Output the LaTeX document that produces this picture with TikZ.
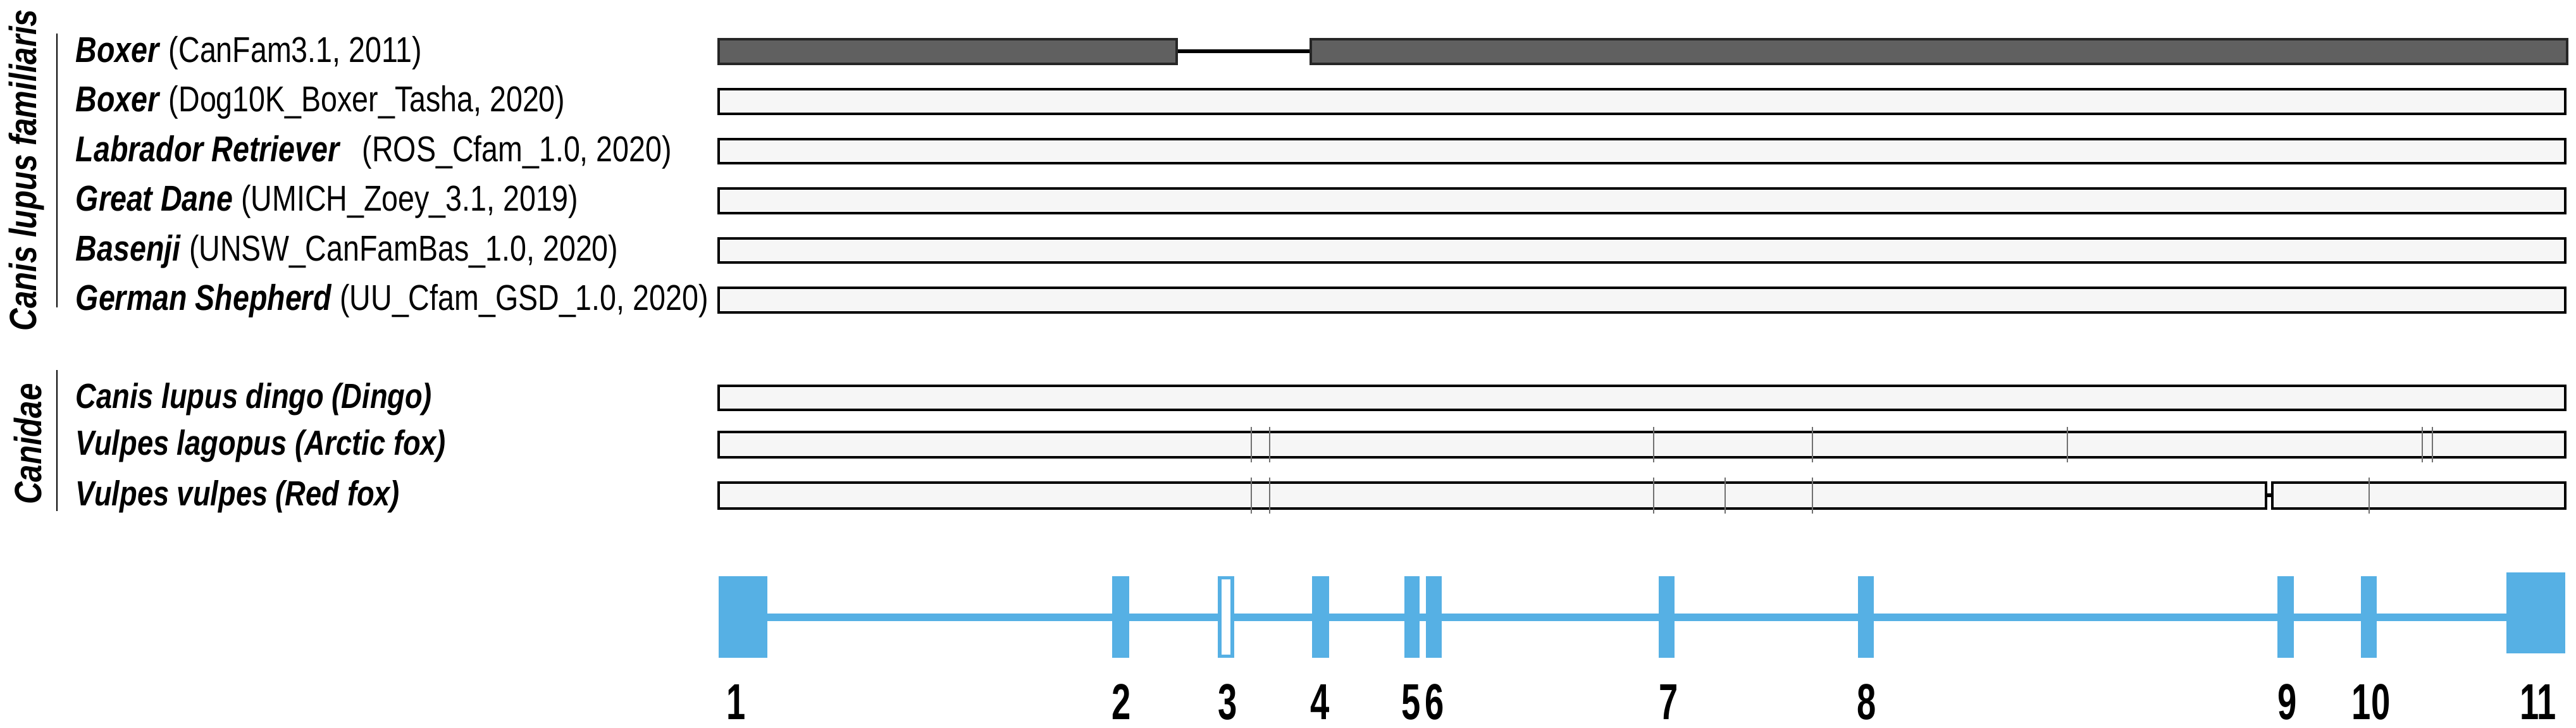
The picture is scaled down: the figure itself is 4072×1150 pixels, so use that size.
\documentclass[tikz,border=0pt]{standalone}
\usepackage{fontspec}
\setmainfont{Liberation Sans}[FakeStretch=0.82]
\newfontfamily\exfont{Liberation Sans}[FakeStretch=0.68]
\definecolor{exblue}{RGB}{86,176,228}
\definecolor{barfill}{RGB}{246,246,246}
\definecolor{darkfill}{RGB}{96,96,96}
\definecolor{tickgrey}{RGB}{112,112,112}
\tikzset{
  lbl/.style={anchor=base west, inner sep=0pt, font=\fontsize{14.2}{17}\selectfont},
  lblb/.style={anchor=base west, inner sep=0pt, font=\fontsize{13.8}{17}\selectfont},
  grp/.style={rotate=90, inner sep=0pt, font=\fontsize{15}{18}\selectfont\bfseries\itshape},
  genebar/.style={draw=black, fill=barfill, line width=1.05pt},
  darkbar/.style={draw=black!85, fill=darkfill, line width=1.05pt},
  snp/.style={draw=tickgrey, line width=0.6pt},
  exon/.style={fill=exblue, draw=none},
  intron/.style={draw=exblue, line width=3pt},
  exnum/.style={anchor=base, inner sep=0pt, font=\exfont\fontsize{20}{24}\selectfont\bfseries},
  grpline/.style={draw=black, line width=0.5pt}
}
\newcommand{\bi}[1]{\textbf{\textit{#1}}}
\begin{document}
\begin{tikzpicture}[x=0.25pt,y=-0.25pt]
\useasboundingbox (0,0) rectangle (4072,1150);

% group labels
\node[grp] (g1) at (42,269) {Canis lupus familiaris};
\draw[grpline] (90,53) -- (90,486);
\node[grp] (g2) at (44,702) {Canidae};
\draw[grpline] (90,585) -- (90,808);

% row labels
\node[lbl] (t1) at (119,98) {\bi{Boxer} (CanFam3.1, 2011)};
\node[lbl] (t2) at (119,176.5) {\bi{Boxer} (Dog10K\_Boxer\_Tasha, 2020)};
\node[lbl] (t3) at (119,255) {\bi{Labrador Retriever}\hspace{0.6em}(ROS\_Cfam\_1.0, 2020)};
\node[lbl] (t4) at (119,333.5) {\bi{Great Dane} (UMICH\_Zoey\_3.1, 2019)};
\node[lbl] (t5) at (119,412) {\bi{Basenji} (UNSW\_CanFamBas\_1.0, 2020)};
\node[lbl] (t6) at (119,490.5) {\bi{German Shepherd} (UU\_Cfam\_GSD\_1.0, 2020)};
\node[lblb] (t7) at (119,645) {\bi{Canis lupus dingo (Dingo)}};
\node[lblb] (t8) at (119,719) {\bi{Vulpes lagopus (Arctic fox)}};
\node[lblb] (t9) at (119,799) {\bi{Vulpes vulpes (Red fox)}};

% Boxer CanFam3.1 (dark, split)
\coordinate (b1a) at (1860,81);
\coordinate (b1b) at (2072,81);
\draw[black, line width=1.3pt] (b1a) -- (b1b);
\draw[darkbar] (1136,62) rectangle (1860,101);
\draw[darkbar] (2072,62) rectangle (4058,101);

% full-length bars
\draw[genebar] (1136,141) rectangle (4055,180);
\draw[genebar] (1136,220) rectangle (4055,258);
\draw[genebar] (1136,298) rectangle (4055,337);
\draw[genebar] (1136,377) rectangle (4055,415);
\draw[genebar] (1136,455) rectangle (4055,494);
\draw[genebar] (1136,610) rectangle (4055,648);
\draw[genebar] (1136,683) rectangle (4055,723);

% Red fox split bar
\coordinate (r1a) at (3582,783);
\coordinate (r1b) at (3592,783);
\draw[black, line width=1.3pt] (r1a) -- (r1b);
\draw[genebar] (1136,763) rectangle (3582,804);
\draw[genebar] (3592,763) rectangle (4055,804);

% variant ticks, Arctic fox
\foreach \x in {1978,2007,2614,2865,3268,3829,3845}
  \draw[snp] (\x,675) -- (\x,731);
% variant ticks, Red fox
\foreach \x in {1978,2007,2614,2727,2865,3745}
  \draw[snp] (\x,755) -- (\x,812);

% gene model
\coordinate (ia) at (1213,976);
\coordinate (ib) at (3962,976);
\draw[intron] (ia) -- (ib);
\fill[exon] (1136,911) rectangle (1213,1040);
\fill[exon] (1758,911) rectangle (1785,1040);
\draw[draw=exblue, fill=white, line width=1.3pt] (1928,913.5) rectangle (1948,1037.5);
\fill[exon] (2074,911) rectangle (2101,1040);
\fill[exon] (2220,911) rectangle (2244,1040);
\fill[exon] (2254,911) rectangle (2279,1040);
\fill[exon] (2622,911) rectangle (2647,1040);
\fill[exon] (2937,911) rectangle (2962,1040);
\fill[exon] (3600,911) rectangle (3626,1040);
\fill[exon] (3732,911) rectangle (3757,1040);
\fill[exon] (3962,905) rectangle (4055,1033);

% exon numbers
\node[exnum] (e1) at (1164,1137) {1};
\node[exnum] (e2) at (1773,1137) {2};
\node[exnum] (e3) at (1941,1137) {3};
\node[exnum] (e4) at (2087,1137) {4};
\node[exnum] (e5) at (2231,1137) {5};
\node[exnum] (e6) at (2268,1137) {6};
\node[exnum] (e7) at (2638,1137) {7};
\node[exnum] (e8) at (2951,1137) {8};
\node[exnum] (e9) at (3616,1137) {9};
\node[exnum] (e10) at (3748,1137) {10};
\node[exnum] (e11) at (4012,1137) {11};
\end{tikzpicture}
\end{document}
